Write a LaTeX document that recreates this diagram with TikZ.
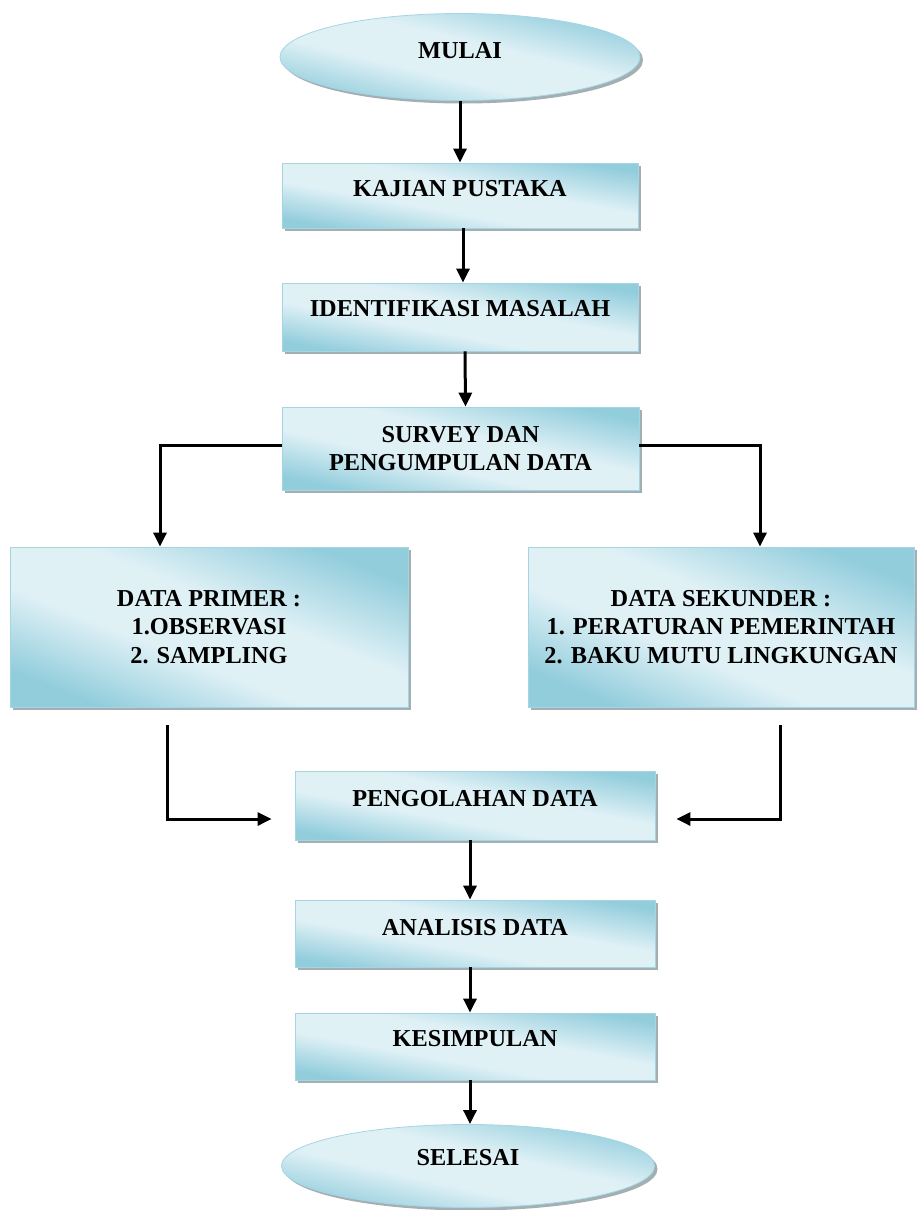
\documentclass[tikz,border=0pt]{standalone}
\usepackage{fontspec}
\setmainfont{Liberation Serif}
\usetikzlibrary{shapes.geometric,shadows,arrows.meta}
\definecolor{dkb}{RGB}{146,205,220}
\definecolor{ltb}{RGB}{224,241,246}
\definecolor{edgeb}{RGB}{165,213,227}
\definecolor{shd}{RGB}{140,155,160}
\pgfdeclarehorizontalshading{wordblue}{100bp}{color(0bp)=(dkb); color(25bp)=(dkb); color(42bp)=(ltb); color(56bp)=(ltb); color(75bp)=(dkb); color(100bp)=(dkb)}
\tikzset{
  base/.style={draw=edgeb, line width=0.8pt, shade, shading=wordblue,
    drop shadow={shadow xshift=3pt, shadow yshift=-3pt, fill=shd, opacity=.8},
    font=\bfseries\fontsize{24.3}{28.6}\selectfont, align=center, inner sep=0pt, text=black},
  stepbox/.style={base, rectangle, shading angle=#1},
  oval/.style={base, ellipse, shading angle=#1},
  lift/.style={text height=16pt, text depth=#1},
  arr/.style={-{Triangle[length=14pt,width=13pt]}, line width=3pt, line join=miter, black}
}
\begin{document}
\begin{tikzpicture}[x=1pt,y=-1pt]
\useasboundingbox (0,0) rectangle (917,1210);
\node[oval=76.4, minimum width=360pt, minimum height=87pt, lift=14pt] (mulai) at (460,57) {MULAI};
\node[stepbox=79.6, minimum width=356pt, minimum height=65pt, lift=14pt] (kajian) at (460,195.5) {KAJIAN PUSTAKA};
\node[stepbox=79.2, minimum width=356pt, minimum height=68pt, lift=18pt] (ident) at (460,317) {IDENTIFIKASI MASALAH};
\node[stepbox=76.9, minimum width=357pt, minimum height=83pt] (survey) at (460.5,448.5) {SURVEY DAN\\PENGUMPULAN DATA};
\node[stepbox=68.1, minimum width=398pt, minimum height=160pt] (primer) at (209,627) {DATA PRIMER :\\1.OBSERVASI\\ 2. SAMPLING};
\node[stepbox=67.5, minimum width=386pt, minimum height=160pt] (sekunder) at (721,627) {DATA SEKUNDER :\\1. PERATURAN PEMERINTAH\\2. BAKU MUTU LINGKUNGAN};
\node[stepbox=79.2, minimum width=360pt, minimum height=69pt, lift=14pt] (olah) at (475,805.5) {PENGOLAHAN DATA};
\node[stepbox=79.5, minimum width=360pt, minimum height=67pt, lift=12pt] (analisis) at (475,933.5) {ANALISIS DATA};
\node[stepbox=79.5, minimum width=360pt, minimum height=67pt, lift=17pt] (simpul) at (475,1046.5) {KESIMPULAN};
\node[oval=77.4, minimum width=373pt, minimum height=83pt, lift=18pt] (selesai) at (468,1166) {SELESAI};

\coordinate (p1) at (167,725);
\coordinate (s1) at (780,725);

\draw[arr] (mulai.south) -- (kajian.north);
\draw[arr] ([xshift=3pt]kajian.south) -- ([xshift=3pt]ident.north);
\draw[arr] ([xshift=5pt]ident.south) -- ([xshift=5pt]survey.north);
\draw[arr] ([yshift=3pt]survey.west) -| ([xshift=-49pt]primer.north);
\draw[arr] ([yshift=3pt]survey.east) -| ([xshift=39pt]sekunder.north);
\draw[arr] (p1) |- ([xshift=-23pt,yshift=-13.5pt]olah.west);
\draw[arr] (s1) |- ([xshift=21pt,yshift=-13.5pt]olah.east);
\draw[arr] ([xshift=-5pt]olah.south) -- ([xshift=-5pt]analisis.north);
\draw[arr] ([xshift=-5pt]analisis.south) -- ([xshift=-5pt]simpul.north);
\draw[arr] ([xshift=-5pt]simpul.south) -- ([xshift=2pt]selesai.north);
\end{tikzpicture}
\end{document}
